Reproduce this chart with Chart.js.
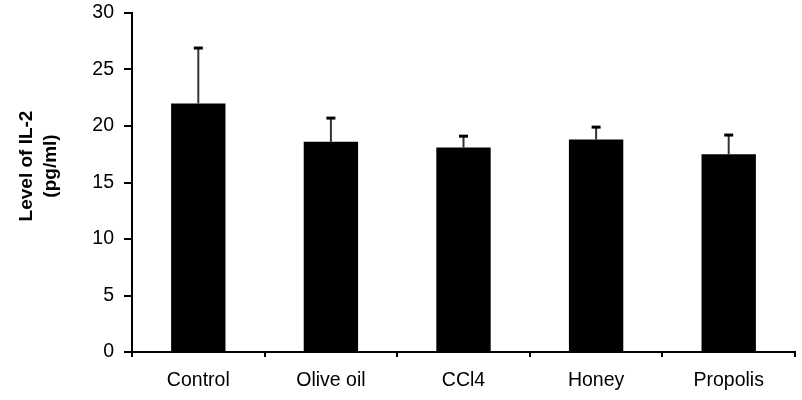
<!DOCTYPE html>
<html>
<head>
<meta charset="utf-8">
<script src="https://cdn.jsdelivr.net/npm/chart.js@4.4.0/dist/chart.umd.min.js"></script>
<style>
  html, body { margin: 0; padding: 0; background: #fff; }
  #wrap { width: 802px; height: 400px; }
</style>
</head>
<body>
<div id="wrap"><canvas id="il2Chart"></canvas></div>
<script>
// values
var groups = ['Control', 'Olive oil', 'CCl4', 'Honey', 'Propolis'];
var il2Mean = [22.0, 18.6, 18.1, 18.8, 17.5];
var il2Err = [4.9, 2.1, 1.0, 1.1, 1.7];
var yTicks = [0, 5, 10, 15, 20, 25, 30];
var yTitle = ['Level of IL-2', '(pg/ml)'];

var FONT = '"Liberation Sans", Arial, sans-serif';

// upper error bars, drawn from the data through the y scale
var errorBars = {
    id: 'errorBars',
    afterDatasetsDraw: function (chart) {
        var ctx = chart.ctx;
        var yScale = chart.scales.y;
        var meta = chart.getDatasetMeta(0);
        ctx.save();
        meta.data.forEach(function (bar, i) {
            var top = yScale.getPixelForValue(il2Mean[i] + il2Err[i]);
            ctx.strokeStyle = '#333';
            ctx.lineWidth = 2;
            ctx.beginPath();
            ctx.moveTo(bar.x, bar.y);
            ctx.lineTo(bar.x, top);
            ctx.stroke();
            ctx.strokeStyle = '#000';
            ctx.lineWidth = 3;
            ctx.beginPath();
            ctx.moveTo(bar.x - 4.5, top);
            ctx.lineTo(bar.x + 4.5, top);
            ctx.stroke();
        });
        ctx.restore();
    }
};

// rotated two-line y title, sitting a bit above the axis middle like the original
var sideTitle = {
    id: 'sideTitle',
    afterDraw: function (chart) {
        var ctx = chart.ctx;
        ctx.save();
        ctx.fillStyle = '#000';
        ctx.font = 'bold 19px ' + FONT;
        ctx.textAlign = 'center';
        ctx.textBaseline = 'middle';
        ctx.translate(27, 166);
        ctx.rotate(-Math.PI / 2);
        yTitle.forEach(function (line, i) {
            ctx.fillText(line, 0, i * 23.75);
        });
        ctx.restore();
    }
};

var ctx = document.getElementById('il2Chart').getContext('2d');
var chart = new Chart(ctx, {
    type: 'bar',
    data: {
        labels: groups,
        datasets: [{
            data: il2Mean,
            backgroundColor: '#000',
            borderWidth: 0,
            categoryPercentage: 1.0,
            barPercentage: 0.41
        }]
    },
    options: {
        responsive: true,
        maintainAspectRatio: false,
        animation: false,
        layout: { padding: { top: 13, right: 7, left: 0, bottom: 0 } },
        plugins: {
            legend: { display: false },
            tooltip: { enabled: false }
        },
        scales: {
            x: {
                grid: {
                    drawOnChartArea: false,
                    drawTicks: true,
                    tickLength: 5,
                    color: '#000',
                    lineWidth: 2
                },
                border: { color: '#000', width: 2 },
                ticks: {
                    color: '#000',
                    padding: 12,
                    maxRotation: 0,
                    font: { family: FONT, size: 19.5 }
                },
                afterFit: function (scale) { scale.height = 48; }
            },
            y: {
                min: 0,
                max: 30,
                afterBuildTicks: function (scale) {
                    scale.ticks = yTicks.map(function (v) { return { value: v }; });
                },
                grid: {
                    drawOnChartArea: false,
                    drawTicks: true,
                    tickLength: 8,
                    color: '#000',
                    lineWidth: 2
                },
                border: { color: '#000', width: 2 },
                ticks: {
                    color: '#000',
                    padding: 10,
                    font: { family: FONT, size: 19.5 }
                },
                afterFit: function (scale) {
                    scale.width = 132;
                    scale.paddingTop = 0;
                    scale.paddingBottom = 0;
                }
            }
        }
    },
    plugins: [errorBars, sideTitle]
});
</script>
</body>
</html>
